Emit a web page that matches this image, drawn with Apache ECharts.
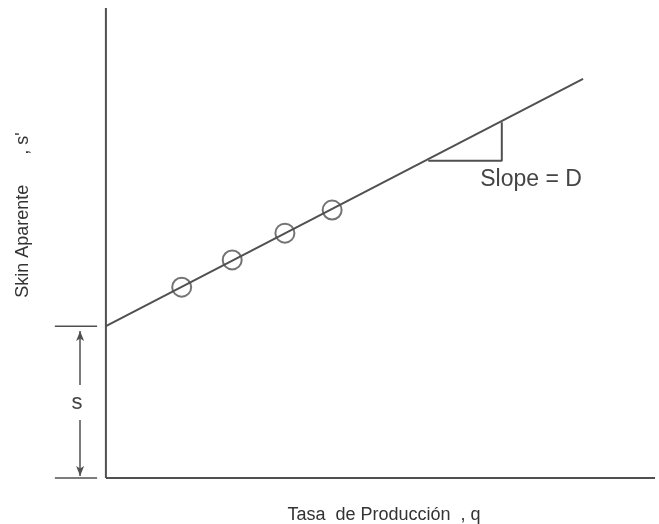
<!DOCTYPE html>
<html><head><meta charset="utf-8">
<script src="https://cdn.jsdelivr.net/npm/echarts@6/dist/echarts.min.js"></script>
<style>html,body{margin:0;padding:0;background:#fff}#c{width:659px;height:524px}</style>
</head><body><div id="c"></div>
<script>
// Straight line s' = s + D*q
var lineQ = [0, 8.69];
var lineS = [3.23, 8.49];
// Measured points
var pointQ = [1.38, 2.30, 3.26, 4.12];
var pointS = [4.06, 4.64, 5.21, 5.70];
// Slope triangle
var triQ = [5.87, 7.21, 7.21];
var triS = [6.75, 6.75, 7.57];
// Intercept s
var interceptS = 3.23;
// Axis extents
var axisMaxQ = 10, axisMaxS = 10;
var tickFromQ = -0.93, tickToQ = -0.16, arrowQ = -0.47;
var labels = {x: 'Tasa  de Producción  , q', y: "Skin Aparente      , s'", s: 's', slope: 'Slope = D'};

var C = '#505050';
var F = '"Liberation Sans", Arial, sans-serif';
function pairs(xs, ys){ return xs.map(function(x,i){return [x, ys[i]];}); }
function seg(data, w){ return {type:'line', data:data, symbol:'none', clip:false, silent:true,
  lineStyle:{color:C, width:w||2}, animation:false}; }

var chart = echarts.init(document.getElementById('c'));
chart.setOption({
  animation:false,
  grid:{left:51, right:4, top:8, bottom:46},
  xAxis:{type:'value', min:-1, max:axisMaxQ, show:false},
  yAxis:{type:'value', min:0, max:axisMaxS, show:false},
  series:[
    seg([[0,0],[0,axisMaxS]]),
    seg([[0,0],[axisMaxQ,0]]),
    seg([[tickFromQ,interceptS],[tickToQ,interceptS]], 1.5),
    seg([[tickFromQ,0],[tickToQ,0]], 1.5),
    seg(pairs(lineQ, lineS)),
    seg(pairs(triQ, triS)),
    {type:'scatter', data:pairs(pointQ, pointS), symbol:'circle', symbolSize:19, clip:false,
     itemStyle:{color:'rgba(0,0,0,0)', borderColor:C, borderWidth:2}, z:5},
    {type:'line', data:[], markLine:{silent:true, animation:false, symbol:['none','arrow'], symbolSize:[6,10],
      label:{show:false}, lineStyle:{color:C, width:1.5, type:'solid'},
      data:[
        [{coord:[arrowQ, interceptS*0.613]},{coord:[arrowQ, interceptS-0.1]}],
        [{coord:[arrowQ, interceptS*0.382]},{coord:[arrowQ, 0.04]}]
      ]}}
  ],
  graphic:[
    {type:'text', x:384, y:515, style:{text:labels.x, fill:'#333', font:'18px ' + F, align:'center', verticalAlign:'middle'}},
    {type:'text', x:23, y:215, rotation:Math.PI/2, style:{text:labels.y, fill:'#333', font:'18px ' + F, align:'center', verticalAlign:'middle'}},
    {type:'text', x:77, y:403, style:{text:labels.s, fill:'#444', font:'22px ' + F, align:'center', verticalAlign:'middle'}},
    {type:'text', x:531, y:180, style:{text:labels.slope, fill:'#444', font:'23px ' + F, align:'center', verticalAlign:'middle'}}
  ]
});
</script></body></html>
